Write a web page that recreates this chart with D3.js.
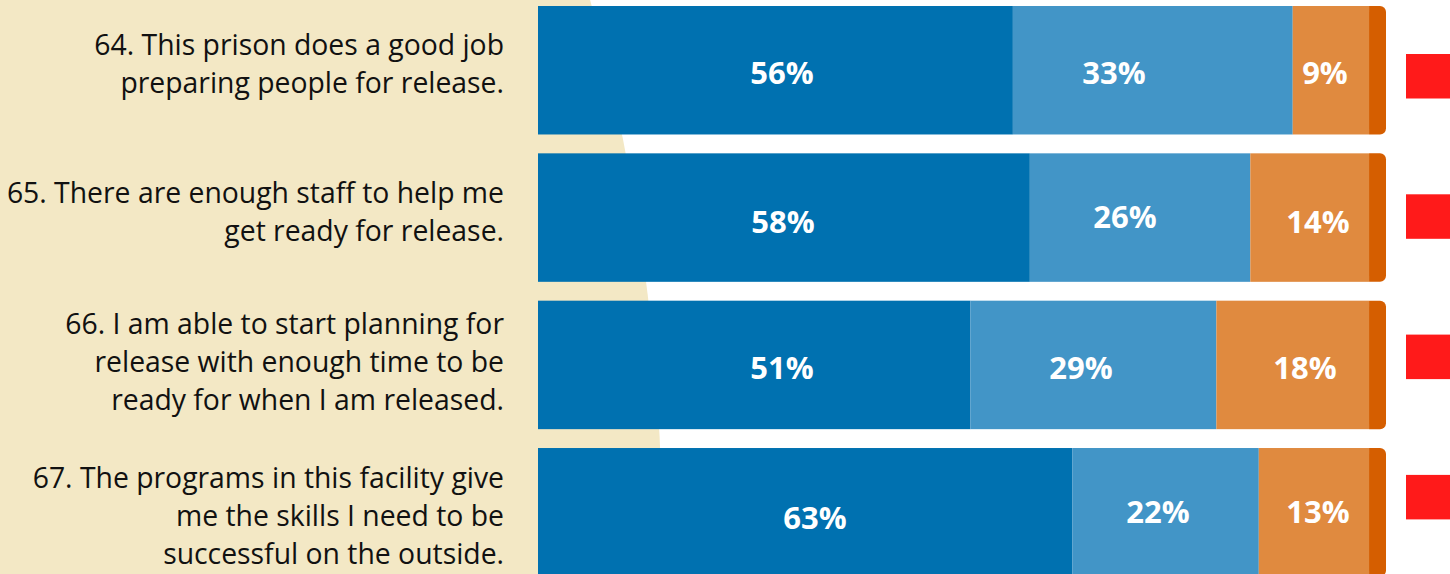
<!DOCTYPE html>
<html>
<head>
<meta charset="utf-8">
<script src="https://cdn.jsdelivr.net/npm/d3@7"></script>
<style>
html,body{margin:0;padding:0;background:#fff;overflow:hidden;}
svg{display:block;}
</style>
</head>
<body>
<svg id="chart" width="1450" height="574"></svg>
<script>
// ---- data ----
const questions = [
  "64. This prison does a good job|preparing people for release.",
  "65. There are enough staff to help me|get ready for release.",
  "66. I am able to start planning for|release with enough time to be|ready for when I am released.",
  "67. The programs in this facility give|me the skills I need to be|successful on the outside."
];
const seriesNames = ["s1", "s2", "s3", "s4"];
const s1 = [56, 58, 51, 63];
const s2 = [33, 26, 29, 22];
const s3 = [9, 14, 18, 13];
const s4 = [2, 2, 2, 2];
const colors = ["#0071b0", "#4295c7", "#e08a3f", "#d55e00"];

// ---- layout tweaks (pixel nudges to match original label placement) ----
const labelDx = [[6.6, -38.8, -5.9], [-0.9, -15.1, 8.3], [27.8, -12.4, 12.3], [9.9, -7.5, 4.1]];
const labelDy = [[1.75, 1.75, 1.75], [3.25, -1.75, 3.25], [2, 2, 2], [4.5, -1.5, -1.5]];
const textDy = [-6.2, -5.9, -3, 3.6];

const svg = d3.select("#chart");

// background cream shape
svg.append("circle").attr("cx", -1364).attr("cy", 535).attr("r", 2026).attr("fill", "#f3e8c5");

const x = d3.scaleLinear().domain([0, 100]).range([538, 1386]);
const y = d3.scaleBand().domain(questions).range([6, 576.5]).paddingInner(0.128).paddingOuter(0);

const stackData = questions.map((q, i) => ({q, s1: s1[i], s2: s2[i], s3: s3[i], s4: s4[i]}));
const stacked = d3.stack().keys(seriesNames)(stackData);

const g = svg.append("g");
stacked.forEach((layer, k) => {
  const last = k === seriesNames.length - 1;
  layer.forEach((d, i) => {
    const x0 = x(d[0]), x1 = x(d[1]), y0 = y(d.data.q), h = y.bandwidth();
    if (!last) {
      g.append("rect").attr("x", x0).attr("y", y0).attr("width", x1 - x0).attr("height", h).attr("fill", colors[k]);
    } else {
      const r = 6;
      const p = d3.path();
      p.moveTo(x0, y0);
      p.lineTo(x1 - r, y0);
      p.arcTo(x1, y0, x1, y0 + r, r);
      p.lineTo(x1, y0 + h - r);
      p.arcTo(x1, y0 + h, x1 - r, y0 + h, r);
      p.lineTo(x0, y0 + h);
      p.closePath();
      g.append("path").attr("d", p.toString()).attr("fill", colors[k]);
    }
    if (!last) {
      g.append("text")
        .attr("x", (x0 + x1) / 2 + labelDx[i][k])
        .attr("y", y0 + h / 2 + 12 + labelDy[i][k])
        .attr("text-anchor", "middle")
        .attr("font-family", "'Open Sans', sans-serif")
        .attr("font-weight", 700)
        .attr("font-size", 31)
        .attr("fill", "#fff")
        .text(d[1] - d[0] + "%");
    }
  });
});

// question labels
const lh = 38;
questions.forEach((q, i) => {
  const lines = q.split("|");
  const cy = y(q) + y.bandwidth() / 2;
  const first = cy - (lines.length - 1) * lh / 2 + 10 + textDy[i];
  const t = svg.append("text")
    .attr("text-anchor", "end")
    .attr("font-family", "'Open Sans', sans-serif")
    .attr("font-size", 28.35)
    .attr("fill", "#111");
  lines.forEach((ln, j) => {
    t.append("tspan").attr("x", 504).attr("y", first + j * lh).text(ln);
  });
});

// red markers on right
const ym = d3.scaleBand().domain(questions).range([54, 54 + 4 * 140.3]).paddingInner(0).paddingOuter(0);
questions.forEach(q => {
  svg.append("rect").attr("x", x(100) + 20).attr("y", ym(q)).attr("width", 50).attr("height", 44.5).attr("fill", "#ff1a1a");
});
</script>
</body>
</html>
